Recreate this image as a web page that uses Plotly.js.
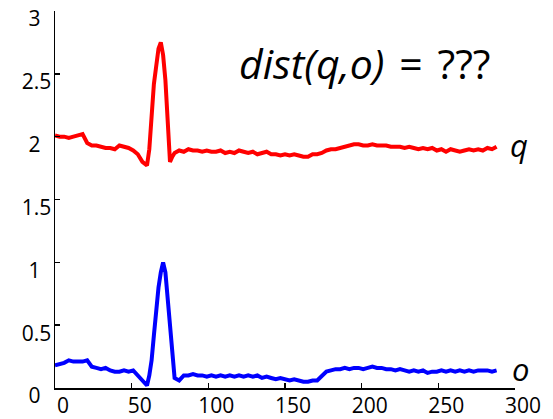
<!DOCTYPE html>
<html>
<head>
<meta charset="utf-8">
<script src="https://cdn.plot.ly/plotly-3.0.1.min.js"></script>
<style>html,body{margin:0;padding:0;background:#fff;}#chart{width:553px;height:419px;}</style>
</head>
<body>
<div id="chart"></div>
<script>
// sample positions (finer around the spike)
const xs = [0,3,6,9,12,15,18,21,24,27,30,33,36,39,42,45,48,51,54,57,60,
  61.5,63,64.5,66,67.5,69,70.5,72,73.5,75,76.5,78,
  81,84,87,90,93,96,99,102,105,108,111,114,117,120,123,126,129,132,135,138,141,144,147,150,
  153,156,159,162,165,168,171,174,177,180,183,186,189,192,195,198,201,204,207,210,213,216,219,222,
  225,228,231,234,237,240,243,246,249,252,255,258,261,264,267,270,273,276,279,282,285,288];

// series q (red)
const qVals = [2.01,2.00,2.00,1.99,2.00,2.01,2.02,1.95,1.93,1.93,1.92,1.91,1.91,1.90,1.93,1.92,1.91,1.89,1.86,1.80,1.77,
  1.90,2.20,2.42,2.56,2.70,2.75,2.65,2.45,2.10,1.80,1.84,1.87,
  1.89,1.88,1.90,1.89,1.89,1.88,1.89,1.88,1.88,1.89,1.87,1.88,1.87,1.89,1.88,1.87,1.88,1.86,1.87,1.88,1.86,1.86,1.85,1.86,
  1.85,1.86,1.85,1.84,1.84,1.86,1.86,1.87,1.89,1.90,1.90,1.91,1.92,1.93,1.94,1.94,1.93,1.93,1.94,1.93,1.93,1.93,1.92,1.92,
  1.92,1.91,1.92,1.91,1.90,1.91,1.90,1.91,1.89,1.90,1.88,1.90,1.89,1.88,1.89,1.90,1.89,1.90,1.89,1.91,1.90,1.92];

// series o (blue)
const oVals = [0.18,0.19,0.20,0.22,0.21,0.21,0.21,0.22,0.17,0.16,0.15,0.16,0.14,0.13,0.13,0.14,0.13,0.14,0.10,0.06,0.02,
  0.10,0.22,0.42,0.62,0.80,0.92,1.00,0.92,0.72,0.50,0.25,0.08,
  0.06,0.10,0.10,0.11,0.10,0.10,0.09,0.10,0.09,0.10,0.09,0.10,0.09,0.10,0.09,0.10,0.09,0.10,0.08,0.09,0.08,0.07,0.08,0.07,
  0.06,0.07,0.06,0.05,0.05,0.06,0.06,0.09,0.13,0.14,0.15,0.15,0.16,0.15,0.16,0.16,0.15,0.16,0.17,0.16,0.16,0.15,0.15,0.14,
  0.15,0.14,0.13,0.14,0.13,0.14,0.12,0.13,0.13,0.14,0.13,0.14,0.13,0.14,0.13,0.14,0.13,0.14,0.14,0.14,0.13,0.14];

const xTickVals = [0,50,100,150,200,250,300];
const xTickText = ["0","50","100","150","200","250","300"];
const yTickVals = [0,0.5,1,1.5,2,2.5,3];
const yTickText = ["0\u00a0\u00a0","0.5","1\u00a0\u00a0","1.5","2\u00a0\u00a0","2.5","3\u00a0\u00a0"];

const FONT = "Open Sans, Noto Sans, DejaVu Sans, sans-serif";

const traces = [
  {x: xs, y: qVals, type: "scatter", mode: "lines", line: {color: "#ff0000", width: 4}, hoverinfo: "skip"},
  {x: xs, y: oVals, type: "scatter", mode: "lines", line: {color: "#0000ff", width: 4}, hoverinfo: "skip"}
];

const layout = {
  width: 553, height: 419,
  margin: {l: 55, r: 38, t: 11, b: 31, pad: 0},
  paper_bgcolor: "#ffffff", plot_bgcolor: "#ffffff",
  showlegend: false,
  font: {family: FONT, size: 21, color: "#000000"},
  xaxis: {
    range: [0, 300], tickmode: "array", tickvals: xTickVals, ticktext: xTickText,
    showline: true, linecolor: "#000", linewidth: 1.5, mirror: false,
    ticks: "inside", ticklen: 5, tickwidth: 1.5, tickcolor: "#000",
    showgrid: false, zeroline: false, ticklabelshift: 8, ticklabelstandoff: -2,
    ticklabeloverflow: "allow",
    tickfont: {family: FONT, size: 21, color: "#000"}
  },
  yaxis: {
    range: [0, 3], tickmode: "array", tickvals: yTickVals, ticktext: yTickText,
    showline: true, linecolor: "#000", linewidth: 1.5, mirror: false,
    ticks: "inside", ticklen: 5, tickwidth: 1.5, tickcolor: "#000",
    showgrid: false, zeroline: false, ticklabelshift: 8, ticklabelstandoff: -2,
    ticklabeloverflow: "allow",
    tickfont: {family: FONT, size: 21, color: "#000"}
  },
  annotations: [
    {xref: "paper", yref: "paper", x: 0.674, y: 0.862, xanchor: "center", yanchor: "middle",
     text: "<i>dist(q,o)</i>\u00a0\u200a=\u00a0\u200a???", showarrow: false, font: {family: FONT, size: 41, color: "#000"}},
    {xref: "paper", yref: "paper", x: 1.009, y: 0.645, xanchor: "center", yanchor: "middle",
     text: "<i>q</i>", showarrow: false, font: {family: FONT, size: 31, color: "#000"}},
    {xref: "paper", yref: "paper", x: 1.011, y: 0.05, xanchor: "center", yanchor: "middle",
     text: "<i>o</i>", showarrow: false, font: {family: FONT, size: 31, color: "#000"}}
  ]
};

Plotly.newPlot("chart", traces, layout, {staticPlot: true, displayModeBar: false});
</script>
</body>
</html>
